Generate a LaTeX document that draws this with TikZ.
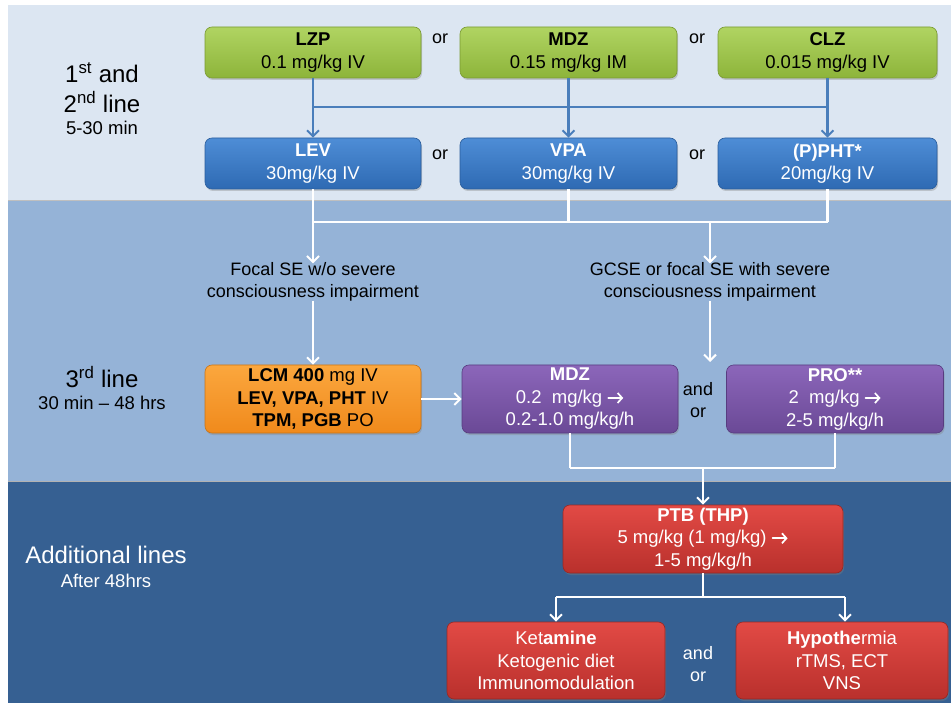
\documentclass[tikz,border=0pt]{standalone}
\usepackage{fontspec}
\setmainfont{Liberation Sans}
\usetikzlibrary{arrows.meta,shadows}
% small solid arrow used inside the dose lines
\newcommand{\doseto}{\tikz[x=1pt, y=1pt, baseline=0pt]
  \draw[white, line width=1.7pt, line cap=round,
        -{Straight Barb[length=4.5pt,width=10pt,line width=1.7pt]}]
        (0,5.5) -- (15,5.5);}

\definecolor{bandA}{HTML}{DCE6F2}
\definecolor{bandB}{HTML}{95B3D7}
\definecolor{bandC}{HTML}{366092}
\definecolor{greenT}{HTML}{B0D462}
\definecolor{greenB}{HTML}{8DB43A}
\definecolor{greenD}{HTML}{7A9A32}
\definecolor{blueT}{HTML}{4E8DD6}
\definecolor{blueB}{HTML}{2E6AB3}
\definecolor{blueD}{HTML}{2A5D9C}
\definecolor{orangeT}{HTML}{FBA73E}
\definecolor{orangeB}{HTML}{F08A1C}
\definecolor{orangeD}{HTML}{C87418}
\definecolor{purpleT}{HTML}{8C66BA}
\definecolor{purpleB}{HTML}{6A4996}
\definecolor{purpleD}{HTML}{573C80}
\definecolor{redT}{HTML}{E24A45}
\definecolor{redB}{HTML}{B9302C}
\definecolor{redD}{HTML}{962824}
\definecolor{linkblue}{HTML}{4A7EBB}

\tikzset{
  drugbox/.style={rounded corners=7pt, align=center, inner sep=0pt,
    font=\fontsize{18.5}{22.5}\selectfont, line width=0.6pt,
    drop shadow={shadow xshift=1pt, shadow yshift=-2pt, opacity=0.35}},
  greenbox/.style={drugbox, top color=greenT, bottom color=greenB, draw=greenD, text=black},
  bluebox/.style={drugbox, top color=blueT, bottom color=blueB, draw=blueD, text=white},
  orangebox/.style={drugbox, top color=orangeT, bottom color=orangeB, draw=orangeD, text=black},
  purplebox/.style={drugbox, top color=purpleT, bottom color=purpleB, draw=purpleD, text=white},
  redbox/.style={drugbox, top color=redT, bottom color=redB, draw=redD, text=white},
  tip/.style={-{Straight Barb[length=6pt,width=12pt,line width=2pt]}},
  bluelink/.style={draw=linkblue, line width=2.6pt},
  whitelink/.style={draw=white, line width=2.6pt},
  plain/.style={inner sep=0pt, font=\fontsize{18}{22}\selectfont, align=center},
  bandlabel/.style={inner sep=0pt, font=\fontsize{24}{28}\selectfont},
  bandsub/.style={inner sep=0pt, font=\fontsize{18.5}{22}\selectfont},
}

\begin{document}
\begin{tikzpicture}[x=1pt, y=-1pt]
  \useasboundingbox (0,0) rectangle (951,703);
  \fill[white] (0,0) rectangle (951,703);

  % background bands
  \fill[bandA] (8,5) rectangle (951,200);
  \fill[bandB] (8,200) rectangle (951,481);
  \fill[bandC] (8,481) rectangle (951,703);
  \draw[black!25, line width=0.8pt] (8,200) -- (951,200);
  \draw[black!30, line width=0.8pt] (8,481) -- (951,481);

  % band captions
  \node[bandlabel] (t1a) at (102,73) {1\textsuperscript{st} and};
  \node[bandlabel] (t1b) at (102,102) {2\textsuperscript{nd} line};
  \node[bandsub]   (t1c) at (102,128) {5-30 min};
  \node[bandlabel] (t3a) at (102,377) {3\textsuperscript{rd} line};
  \node[bandsub]   (t3b) at (102,403) {30 min -- 48 hrs};
  \node[bandlabel, text=white] (t4a) at (106,555) {Additional lines};
  \node[bandsub, text=white]   (t4b) at (106,581) {After 48hrs};

  % first line: benzodiazepines
  \node[greenbox, minimum width=216pt, minimum height=51pt] (lzp) at (313,52.5) {\textbf{LZP}\\0.1 mg/kg IV};
  \node[greenbox, minimum width=217pt, minimum height=51pt] (mdza) at (568.5,52.5) {\textbf{MDZ}\\0.15 mg/kg IM};
  \node[greenbox, minimum width=219pt, minimum height=51pt] (clz) at (827.5,52.5) {\textbf{CLZ}\\0.015 mg/kg IV};
  \node[plain] (or1) at (440,39) {or};
  \node[plain] (or2) at (697,39) {or};

  % second line
  \node[bluebox, minimum width=216pt, minimum height=51pt] (lev) at (313,163.5) {\textbf{LEV}\\30mg/kg IV};
  \node[bluebox, minimum width=217pt, minimum height=51pt] (vpa) at (568.5,163.5) {\textbf{VPA}\\30mg/kg IV};
  \node[bluebox, minimum width=219pt, minimum height=51pt] (pht) at (827.5,163.5) {\textbf{(P)PHT*}\\20mg/kg IV};
  \node[plain] (or3) at (440,155) {or};
  \node[plain] (or4) at (697,155) {or};

  % first -> second line connectors
  \coordinate (bj) at (0,107);
  \draw[bluelink] (lzp.south |- bj) -- (clz.south |- bj);
  \draw[bluelink, tip] (lzp.south) -- (lev.north);
  \draw[bluelink, tip] (mdza.south) -- (vpa.north);
  \draw[bluelink, tip] (clz.south) -- (pht.north);

  % branch by seizure type
  \node[plain] (focal) at (313,282) {Focal SE w/o severe\\consciousness impairment};
  \node[plain] (gcse) at (710,282) {GCSE or focal SE with severe\\consciousness impairment};
  \coordinate (wj) at (0,222);
  \coordinate (gj) at (710,222);
  \coordinate (gend) at (710,362);
  \draw[whitelink] (lev.south) -- (lev.south |- wj);
  \draw[whitelink] (vpa.south) -- (vpa.south |- wj);
  \draw[whitelink] (pht.south) -- (pht.south |- wj);
  \draw[whitelink] (lev.south |- wj) -- (pht.south |- wj);
  \draw[whitelink, tip] (lev.south |- wj) -- ([yshift=-1pt]focal.north);
  \draw[whitelink, tip] (gj) -- ([yshift=-1pt]gcse.north);

  % third line
  \node[orangebox, minimum width=216pt, minimum height=68pt] (lcm) at (313,399)
    {\textbf{LCM 400} mg IV\\\textbf{LEV, VPA, PHT} IV\\\textbf{TPM, PGB} PO};
  \node[purplebox, minimum width=216pt, minimum height=68pt] (mdzb) at (570,399)
    {\textbf{MDZ}\\0.2\ \ mg/kg \doseto\\0.2-1.0 mg/kg/h};
  \node[purplebox, minimum width=217pt, minimum height=68pt] (pro) at (835,399)
    {\textbf{PRO**}\\2\ \ mg/kg \doseto\\2-5 mg/kg/h};
  \node[plain] (ao1) at (698,400) {and\\or};

  \draw[whitelink, tip] ([yshift=1pt]focal.south) -- (lcm.north);
  \draw[whitelink, tip] ([yshift=1pt]gcse.south) -- (gend);
  \draw[whitelink, tip] (lcm.east) -- (mdzb.west);

  % additional lines
  \node[redbox, minimum width=280pt, minimum height=68pt] (ptb) at (703,539)
    {\textbf{PTB (THP)}\\5 mg/kg (1 mg/kg) \doseto\\1-5 mg/kg/h};
  \coordinate (rj) at (0,468);
  \draw[whitelink] (mdzb.south) -- (mdzb.south |- rj);
  \draw[whitelink] (pro.south) -- (pro.south |- rj);
  \draw[whitelink] (mdzb.south |- rj) -- (pro.south |- rj);
  \draw[whitelink, tip] (ptb.north |- rj) -- (ptb.north);

  \node[redbox, minimum width=218pt, minimum height=77pt] (ket) at (556,660.5)
    {Ket\textbf{amine}\\Ketogenic diet\\Immunomodulation};
  \node[redbox, minimum width=212pt, minimum height=77pt] (hyp) at (842,660.5)
    {\textbf{Hypothe}rmia\\rTMS, ECT\\VNS};
  \node[plain, text=white] (ao2) at (698,664) {and\\or};

  \coordinate (kj) at (0,597);
  \coordinate (hj) at (845,597);
  \draw[whitelink] (ptb.south) -- (ptb.south |- kj);
  \draw[whitelink] (ket.north |- kj) -- (hj);
  \draw[whitelink, tip] (ket.north |- kj) -- (ket.north);
  \draw[whitelink, tip] (hj) -- (hj |- hyp.north);
\end{tikzpicture}
\end{document}
